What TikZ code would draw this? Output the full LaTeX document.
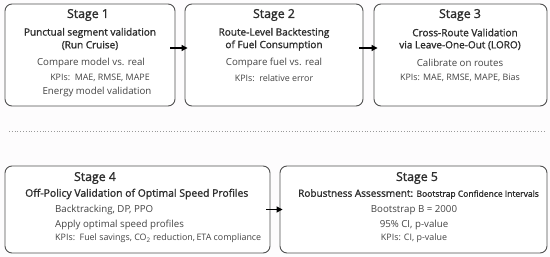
\documentclass[tikz,border=0pt]{standalone}
\usepackage{fontspec}
\setmainfont{Open Sans}
\newfontfamily\semib[FakeBold=1.4]{Open Sans}
\usetikzlibrary{arrows.meta,calc}
\definecolor{bord}{HTML}{505050}
\definecolor{txt}{HTML}{2E2E2E}
\definecolor{sub}{HTML}{444444}
\definecolor{bgc}{HTML}{FDFCFD}
\tikzset{
  stagebox/.style={draw=bord,line width=0.9pt,rounded corners=7pt,fill=white,inner sep=0pt},
  ttl/.style={text=txt,font=\fontsize{12.3}{14}\semib,inner sep=0pt},
  sttl/.style={text=txt,font=\fontsize{10}{12}\semib,inner sep=0pt},
  body/.style={text=sub,font=\fontsize{9.7}{11}\selectfont,inner sep=0pt},
  kpi/.style={text=sub,font=\fontsize{8.9}{10}\selectfont,inner sep=0pt},
  arr/.style={draw=black,line width=1.1pt,-{Triangle[length=6pt,width=6pt]}},
  sep/.style={draw=gray!80,line width=0.8pt,dotted}
}
\begin{document}
\begin{tikzpicture}[x=1pt,y=-1pt]
\fill[bgc] (0,0) rectangle (550,257);
\useasboundingbox (0,0) rectangle (550,257);
% boxes
\node[stagebox,minimum width=170pt,minimum height=102pt] (b1) at (90,55) {};
\node[stagebox,minimum width=178pt,minimum height=102pt] (b2) at (274,55) {};
\node[stagebox,minimum width=173pt,minimum height=102pt] (b3) at (460.5,55) {};
\node[stagebox,minimum width=265pt,minimum height=87pt] (b4) at (137.5,209.5) {};
\node[stagebox,minimum width=267pt,minimum height=87pt] (b5) at (413.5,209.5) {};
% stage 1
\node[ttl] (t1) at (88,15) {Stage 1};
\node[sttl] (t1a) at (90,33) {Punctual segment validation};
\node[sttl] (t1b) at (90,45.5) {(Run Cruise)};
\node[body] (t1c) at (91,63) {Compare model vs. real};
\node[kpi] (t1d) at (100,78) {KPIs:\, MAE, RMSE, MAPE};
\node[body] (t1e) at (97,92) {Energy model validation};
% stage 2
\node[ttl] (t2) at (274,15) {Stage 2};
\node[sttl] (t2a) at (274,33) {Route-Level Backtesting};
\node[sttl] (t2b) at (274,45.5) {of Fuel Consumption};
\node[body] (t2c) at (274,63) {Compare fuel vs. real};
\node[kpi] (t2d) at (274,78) {KPIs:\, relative error};
% stage 3
\node[ttl] (t3) at (460,15) {Stage 3};
\node[sttl] (t3a) at (465,32.5) {Cross-Route Validation};
\node[sttl] (t3b) at (460,45.5) {via Leave-One-Out (LORO)};
\node[body] (t3c) at (460,63) {Calibrate on routes};
\node[kpi] (t3d) at (460,78) {KPIs: MAE, RMSE, MAPE, Bias};
% separator
\coordinate (s1) at (9,131);
\coordinate (s2) at (545,131);
\draw[sep] (s1) -- (s2);
% stage 4
\node[ttl] (t4) at (95,178) {Stage 4};
\node[sttl,anchor=west,font=\fontsize{10.4}{12}\semib] (t4a) at (25,194) {Off-Policy Validation of Optimal Speed Profiles};
\node[body,anchor=west] (t4b) at (55,210) {Backtracking, DP, PPO};
\node[body,anchor=west] (t4c) at (55,225) {Apply optimal speed profiles};
\node[kpi,anchor=west] (t4d) at (55,238.5) {KPIs:\, Fuel savings, CO\textsubscript{2} reduction,\,ETA compliance};
% stage 5
\node[ttl] (t5) at (417,178) {Stage 5};
\node[sttl,anchor=west] (t5a) at (298,194) {Robustness Assessment: \fontsize{8.5}{10}\selectfont Bootstrap Confidence Intervals};
\node[body] (t5b) at (414,210) {Bootstrap B = 2000};
\node[body] (t5c) at (414,225) {95\% CI, p-value};
\node[kpi] (t5d) at (414,238.5) {KPIs: CI, p-value};
% arrows
\draw[arr] ([xshift=-5pt,yshift=7pt]b1.east) -- ([xshift=3pt,yshift=7pt]b2.west);
\draw[arr] ([xshift=-4pt,yshift=7pt]b2.east) -- ([xshift=4pt,yshift=7pt]b3.west);
\draw[arr] ([xshift=-4pt]b4.east) -- ([xshift=3pt]b5.west);
\end{tikzpicture}
\end{document}
